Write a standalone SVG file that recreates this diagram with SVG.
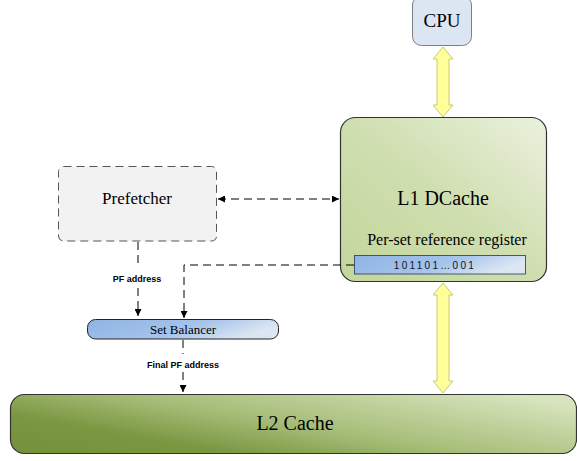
<svg xmlns="http://www.w3.org/2000/svg" width="577" height="461" viewBox="0 0 577 461">
<defs>
<linearGradient id="gL1" x1="0" y1="1" x2="1" y2="0">
<stop offset="0" stop-color="#c3d69b"/><stop offset="0.5" stop-color="#cfdeaf"/><stop offset="1" stop-color="#ebf1de"/>
</linearGradient>
<linearGradient id="gL2" x1="0" y1="0.8" x2="1" y2="0.2" gradientUnits="objectBoundingBox">
<stop offset="0" stop-color="#76923c"/><stop offset="0.2" stop-color="#7b9742"/><stop offset="0.5" stop-color="#a6bd78"/><stop offset="1" stop-color="#d7e4bd"/>
</linearGradient>
<linearGradient id="gBlue" x1="0" y1="0" x2="1" y2="0.3">
<stop offset="0" stop-color="#8eb4e3"/><stop offset="0.6" stop-color="#a6c3ea"/><stop offset="1" stop-color="#dce6f2"/>
</linearGradient>
<marker id="ah" viewBox="0 0 10 10" refX="10" refY="5" markerWidth="7" markerHeight="7" orient="auto-start-reverse" markerUnits="userSpaceOnUse">
<path d="M0,0 L10,5 L0,10 z" fill="#000"/>
</marker>
<style>
.serif{font-family:"Liberation Serif","Times New Roman",serif;fill:#000;text-anchor:middle}
.lbl{font-family:"Liberation Sans",Arial,sans-serif;font-weight:bold;font-size:9px;fill:#000;text-anchor:middle}
.dash{fill:none;stroke:#000;stroke-width:1;stroke-dasharray:8,5}
.yarrow{fill:#ffff99;stroke:#c8c87a;stroke-width:1}
</style>
</defs>
<rect width="577" height="461" fill="#fff"/>

<g id="cpu">
<rect x="412.5" y="-4" width="59" height="49.5" rx="9" fill="#dce6f2" stroke="#7f7f7f" stroke-width="1"/>
<text class="serif" x="442" y="27" font-size="19">CPU</text>
</g>

<g id="l1">
<rect x="340.5" y="117.5" width="206" height="164" rx="15" fill="url(#gL1)" stroke="#333" stroke-width="1.2"/>
<text class="serif" x="443" y="205" font-size="20">L1 DCache</text>
<text class="serif" x="447" y="245" font-size="16">Per-set reference register</text>
</g>

<g id="register">
<rect x="354.5" y="255.5" width="171" height="18.5" fill="url(#gBlue)" stroke="#1f3864" stroke-width="0.8"/>
<text x="435" y="268.5" font-family="Liberation Sans, Arial, sans-serif" font-size="10" letter-spacing="2.3" fill="#10102a" text-anchor="middle">101101…001</text>
</g>

<g id="prefetcher">
<rect x="58.5" y="166.5" width="158" height="74.5" rx="5" fill="#f2f2f2" stroke="#555" stroke-width="1" stroke-dasharray="8,5"/>
<text class="serif" x="137" y="204" font-size="17">Prefetcher</text>
</g>

<g id="setbalancer">
<rect x="87.5" y="319.5" width="191" height="19.5" rx="8" fill="url(#gBlue)" stroke="#222" stroke-width="1"/>
<text class="serif" x="183" y="333.5" font-size="13">Set Balancer</text>
</g>

<g id="l2">
<rect x="10.5" y="394.5" width="566" height="59" rx="14" fill="url(#gL2)" stroke="#333" stroke-width="1.2"/>
<text class="serif" x="295" y="430" font-size="20">L2 Cache</text>
</g>

<g id="connectors">
<polygon class="yarrow" points="443,47 453,59 449,59 449,105 453,105 443,117 433,105 437,105 437,59 433,59"/>
<polygon class="yarrow" points="443,283 453,295 449,295 449,381 453,381 443,393 433,381 437,381 437,295 433,295"/>
<line class="dash" x1="218" y1="199" x2="339" y2="199" marker-start="url(#ah)" marker-end="url(#ah)"/>
<line class="dash" x1="138" y1="242" x2="138" y2="268"/>
<line class="dash" x1="138" y1="288" x2="138" y2="316" marker-end="url(#ah)"/>
<text class="lbl" x="137" y="282">PF address</text>
<polyline class="dash" points="354,265 184,265 184,318" marker-end="url(#ah)"/>
<line class="dash" x1="183" y1="340" x2="183" y2="354"/>
<line class="dash" x1="183" y1="372" x2="183" y2="392" marker-end="url(#ah)"/>
<text class="lbl" x="183" y="368">Final PF address</text>
</g>
</svg>
